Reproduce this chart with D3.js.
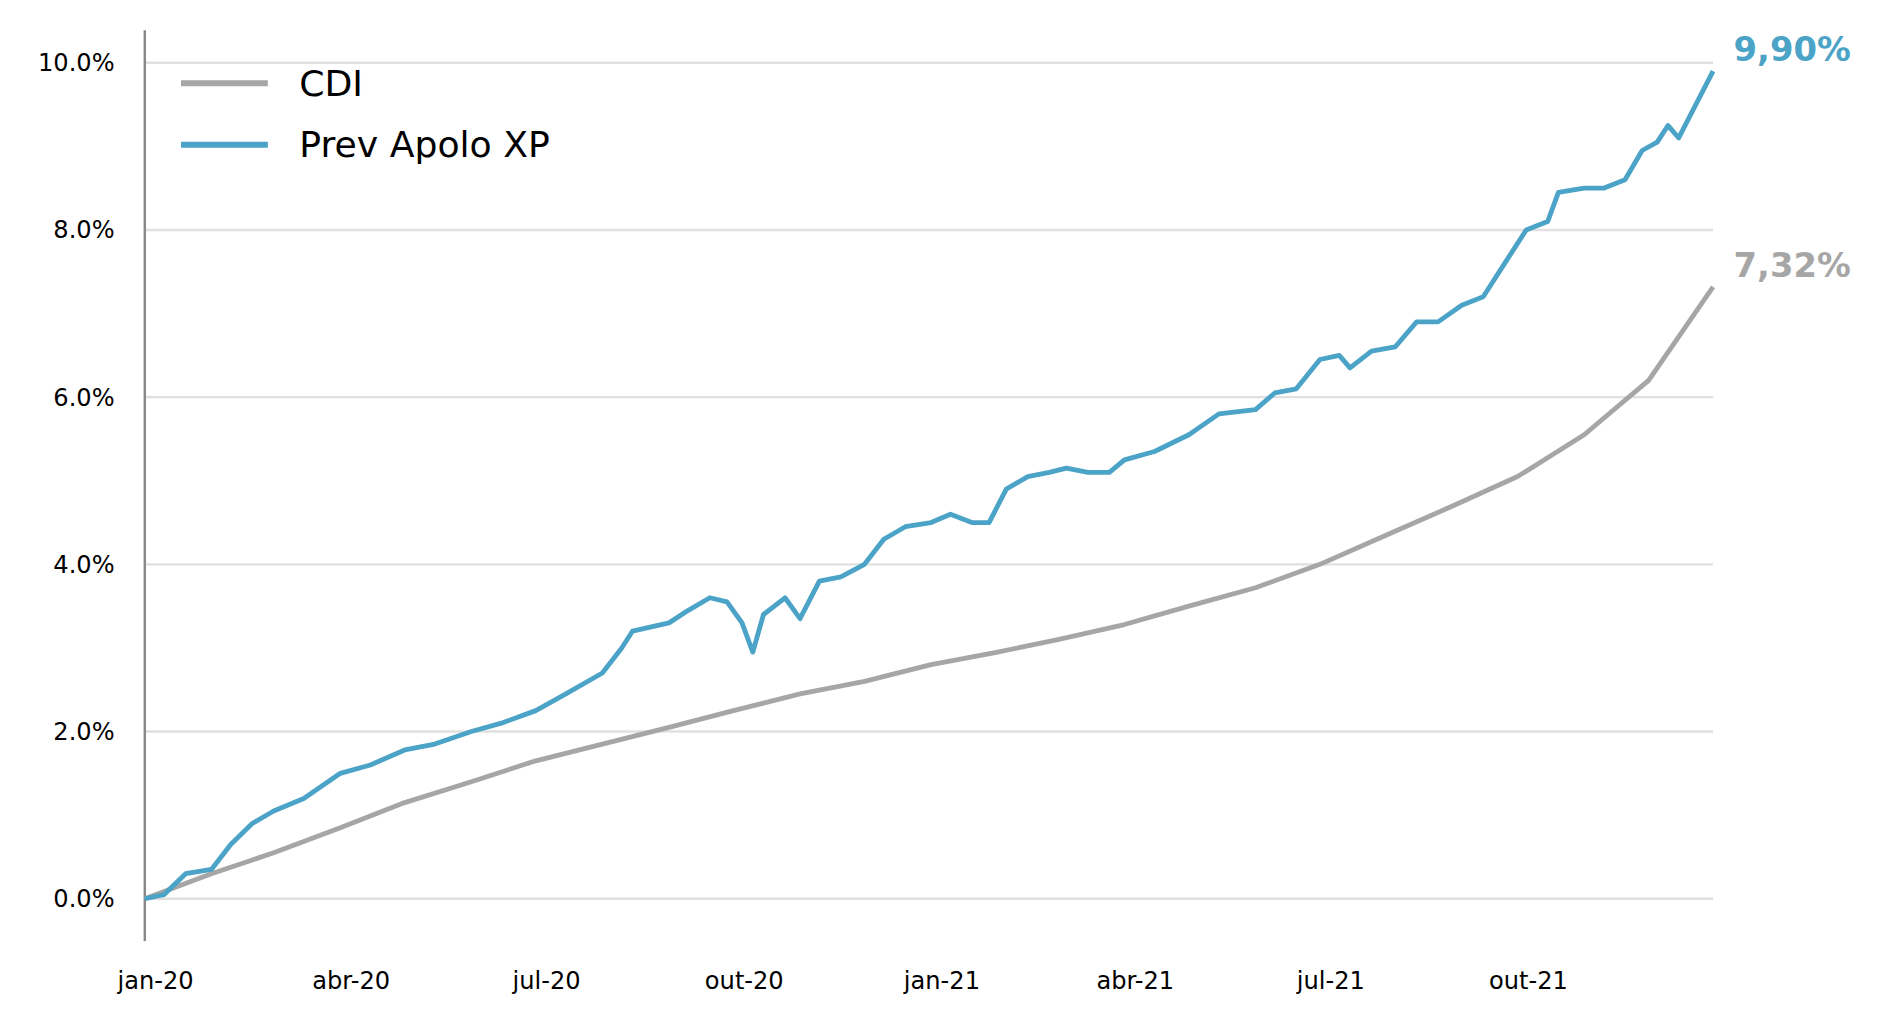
<!DOCTYPE html>
<html>
<head>
<meta charset="utf-8">
<script src="https://cdn.jsdelivr.net/npm/d3@7"></script>
<style>
  html, body { margin: 0; padding: 0; background: #fff; }
  svg { display: block; font-family: "DejaVu Sans", Verdana, sans-serif; }
</style>
</head>
<body>
<div id="chart"></div>
<script>
(function() {
  "use strict";

  // CDI accumulated return (%)
  var cdiDates = ["2020-01-01","2020-02-01","2020-03-01","2020-04-01","2020-05-01","2020-06-01",
    "2020-07-01","2020-08-01","2020-09-01","2020-10-01","2020-11-01","2020-12-01","2021-01-01",
    "2021-02-01","2021-03-01","2021-04-01","2021-05-01","2021-06-01","2021-07-01","2021-08-01",
    "2021-09-01","2021-10-01","2021-11-01","2021-12-01","2021-12-31"];
  var cdiValues = [0, 0.3, 0.55, 0.85, 1.15, 1.4, 1.65, 1.85, 2.05, 2.25, 2.45, 2.6, 2.8,
    2.95, 3.1, 3.28, 3.5, 3.72, 4.0, 4.35, 4.7, 5.05, 5.55, 6.2, 7.32];

  // Prev Apolo XP accumulated return (%)
  var apoloDates = ["2020-01-01","2020-01-10","2020-01-20","2020-02-01","2020-02-10","2020-02-20",
    "2020-03-01","2020-03-15","2020-04-01","2020-04-15","2020-05-01","2020-05-15","2020-06-01",
    "2020-06-15","2020-07-01","2020-07-15","2020-08-01","2020-08-10","2020-08-15","2020-09-01",
    "2020-09-10","2020-09-20","2020-09-28","2020-10-05","2020-10-10","2020-10-15","2020-10-25",
    "2020-11-01","2020-11-10","2020-11-20","2020-12-01","2020-12-10","2020-12-20","2021-01-01",
    "2021-01-10","2021-01-20","2021-01-28","2021-02-05","2021-02-15","2021-02-25","2021-03-05",
    "2021-03-15","2021-03-25","2021-04-01","2021-04-15","2021-05-01","2021-05-15","2021-06-01",
    "2021-06-10","2021-06-20","2021-07-01","2021-07-10","2021-07-15","2021-07-25","2021-08-05",
    "2021-08-15","2021-08-25","2021-09-05","2021-09-15","2021-09-25","2021-10-05","2021-10-15",
    "2021-10-20","2021-11-01","2021-11-10","2021-11-20","2021-11-28","2021-12-05","2021-12-10",
    "2021-12-15","2021-12-22","2021-12-31"];
  var apoloValues = [0, 0.05, 0.3, 0.35, 0.65, 0.9, 1.05, 1.2, 1.5, 1.6, 1.78, 1.85, 2.0,
    2.1, 2.25, 2.45, 2.7, 3.0, 3.2, 3.3, 3.45, 3.6, 3.55, 3.3, 2.95, 3.4, 3.6,
    3.35, 3.8, 3.85, 4.0, 4.3, 4.45, 4.5, 4.6, 4.5, 4.5, 4.9, 5.05, 5.1, 5.15,
    5.1, 5.1, 5.25, 5.35, 5.55, 5.8, 5.85, 6.05, 6.1, 6.45, 6.5, 6.35, 6.55, 6.6,
    6.9, 6.9, 7.1, 7.2, 7.6, 8.0, 8.1, 8.45, 8.5, 8.5, 8.6, 8.95, 9.05, 9.25,
    9.1, 9.45, 9.9];

  var yTicks = [0, 2, 4, 6, 8, 10];
  var xTickDates = ["2020-01-01","2020-04-01","2020-07-01","2020-10-01",
    "2021-01-01","2021-04-01","2021-07-01","2021-10-01"];
  var xTickLabels = ["jan-20","abr-20","jul-20","out-20","jan-21","abr-21","jul-21","out-21"];

  var parse = d3.timeParse("%Y-%m-%d");
  var series = [
    { name: "CDI", color: "#A6A6A6", end: "7,32%",
      data: cdiDates.map(function(d, i) { return { date: parse(d), v: cdiValues[i] }; }) },
    { name: "Prev Apolo XP", color: "#4BA3C7", end: "9,90%",
      data: apoloDates.map(function(d, i) { return { date: parse(d), v: apoloValues[i] }; }) }
  ];

  // drawn in a 1560x848 coordinate space, scaled to the window
  var svg = d3.select("#chart").append("svg")
    .attr("width", 1882).attr("height", 1023)
    .attr("viewBox", "0 0 1560 848");

  var x = d3.scaleTime()
    .domain([parse("2020-01-01"), parse("2021-12-31")])
    .range([120, 1420]);
  var y = d3.scaleLinear().domain([0, 10]).range([745, 52]);

  // grid
  svg.append("g").selectAll("line").data(yTicks).enter().append("line")
    .attr("x1", 120).attr("x2", 1420)
    .attr("y1", function(d) { return y(d); }).attr("y2", function(d) { return y(d); })
    .attr("stroke", "#e0e0e0").attr("stroke-width", 2);

  svg.append("g").selectAll("text").data(yTicks).enter().append("text")
    .attr("x", 95).attr("y", function(d) { return y(d); })
    .attr("dy", "0.35em").attr("text-anchor", "end")
    .attr("font-size", 20).attr("fill", "#000")
    .text(function(d) { return d.toFixed(1) + "%"; });

  // axis line
  svg.append("line").attr("x1", 120).attr("x2", 120).attr("y1", 25).attr("y2", 780)
    .attr("stroke", "#888").attr("stroke-width", 2);

  svg.append("g").selectAll("text").data(xTickDates).enter().append("text")
    .attr("x", function(d) { return x(parse(d)) + 9; }).attr("y", 813)
    .attr("dy", "0.35em").attr("text-anchor", "middle")
    .attr("font-size", 20).attr("fill", "#000")
    .text(function(d, i) { return xTickLabels[i]; });

  var line = d3.line()
    .x(function(d) { return x(d.date); })
    .y(function(d) { return y(d.v); });

  svg.append("g").selectAll("path").data(series).enter().append("path")
    .attr("fill", "none")
    .attr("stroke", function(d) { return d.color; })
    .attr("stroke-width", 4)
    .attr("stroke-linejoin", "round")
    .attr("d", function(d) { return line(d.data); });

  // end labels
  svg.append("g").selectAll("text").data(series).enter().append("text")
    .attr("x", 1437)
    .attr("y", function(d) { return y(d.data[d.data.length - 1].v) - 18; })
    .attr("dy", "0.35em")
    .attr("font-size", 28).attr("font-weight", "bold")
    .attr("fill", function(d) { return d.color; })
    .text(function(d) { return d.end; });

  // legend
  var legend = svg.append("g").selectAll("g").data(series).enter().append("g")
    .attr("transform", function(d, i) { return "translate(150," + (69 + i * 51) + ")"; });
  legend.append("line").attr("x1", 0).attr("x2", 72)
    .attr("stroke", function(d) { return d.color; }).attr("stroke-width", 5);
  legend.append("text").attr("x", 98).attr("dy", "0.35em")
    .attr("font-size", 30).attr("fill", "#000")
    .text(function(d) { return d.name; });
})();
</script>
</body>
</html>
